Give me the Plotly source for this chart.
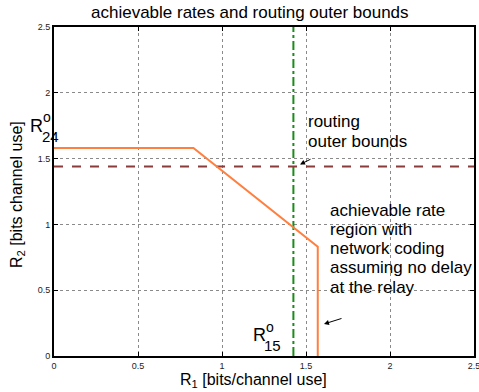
import plotly.graph_objects as go

# data
region_r1 = [0, 0.83, 1.57, 1.57]
region_r2 = [1.58, 1.58, 0.83, 0.0]
r24_bound = 1.44
r15_bound = 1.425
ticks = [0, 0.5, 1, 1.5, 2, 2.5]
tick_text = ["0", "0.5", "1", "1.5", "2", "2.5"]

W, H = 479, 392
L, R, T, B = 54, 5, 27, 36
PW, PH = W - L - R, H - T - B

def px(x):
    return (x - L) / PW

def py(y):
    return (H - B - y) / PH

fig = go.Figure()
fig.add_trace(go.Scatter(x=[r15_bound, r15_bound], y=[0, 2.5], mode="lines",
                         line=dict(color="#1a8c1a", width=2, dash="dashdot"), showlegend=False))
fig.add_trace(go.Scatter(x=[0, 2.5], y=[r24_bound, r24_bound], mode="lines",
                         line=dict(color="#8c3b3b", width=2, dash="dash"), showlegend=False))
fig.add_trace(go.Scatter(x=region_r1, y=region_r2, mode="lines",
                         line=dict(color="#ff7f3f", width=2), showlegend=False))

FAM = "Liberation Sans, Arial, sans-serif"
ann = []
def text(x, y, t, size=17, xanchor="left", yanchor="middle"):
    ann.append(dict(xref="paper", yref="paper", x=px(x), y=py(y), text=t, showarrow=False,
                    xanchor=xanchor, yanchor=yanchor, align="left",
                    font=dict(size=size, family=FAM, color="black")))

text(28, 126, "R", 18)
text(41, 117, "o", 14)
text(40, 136, "24", 15)
text(251, 335, "R", 18)
text(264, 327, "o", 14)
text(262, 345, "15", 15)
for i, line in enumerate(["routing", "outer bounds"]):
    text(306, 121 + 20 * i, line)
for i, line in enumerate(["achievable rate", "region with", "network coding",
                          "assuming no delay", "at the relay"]):
    text(328, 210 + 19.3 * i, line)

# arrows
ann.append(dict(xref="paper", yref="paper", x=px(300), y=py(164.5), ax=12, ay=-6,
                axref="pixel", ayref="pixel", showarrow=True, arrowhead=2, arrowsize=1,
                arrowwidth=1, arrowcolor="black", text=""))
ann.append(dict(xref="paper", yref="paper", x=px(324), y=py(324), ax=19, ay=-6,
                axref="pixel", ayref="pixel", showarrow=True, arrowhead=2, arrowsize=1,
                arrowwidth=1, arrowcolor="black", text=""))

# axis titles
ann.append(dict(xref="paper", yref="paper", x=px(253), y=py(380), showarrow=False,
                text="R<sub>1</sub> [bits/channel use]", xanchor="center", yanchor="middle",
                font=dict(size=16, family=FAM, color="black")))
ann.append(dict(xref="paper", yref="paper", x=px(17), y=py(195), showarrow=False,
                text="R<sub>2</sub> [bits channel use]", textangle=-90, xanchor="center",
                yanchor="middle", font=dict(size=16, family=FAM, color="black")))
ann.append(dict(xref="paper", yref="paper", x=px(250), y=py(12), showarrow=False,
                text="achievable rates and routing outer bounds", xanchor="center",
                yanchor="middle", font=dict(size=17, family=FAM, color="black")))

axis_common = dict(range=[0, 2.5], tickvals=ticks, ticktext=tick_text, showgrid=True,
                   gridcolor="#8a8a8a", griddash="dot", gridwidth=1, zeroline=False,
                   showline=True, linecolor="black", linewidth=2, mirror="ticks",
                   ticks="inside", ticklen=4, tickcolor="black", automargin=False,
                   ticklabeloverflow="allow",
                   tickfont=dict(size=9, family=FAM, color="#222"))
fig.update_layout(
    width=W, height=H, margin=dict(l=L, r=R, t=T, b=B, autoexpand=False),
    paper_bgcolor="white", plot_bgcolor="white",
    xaxis=axis_common, yaxis=axis_common,
    annotations=ann,
)
fig.write_html("out.html")
